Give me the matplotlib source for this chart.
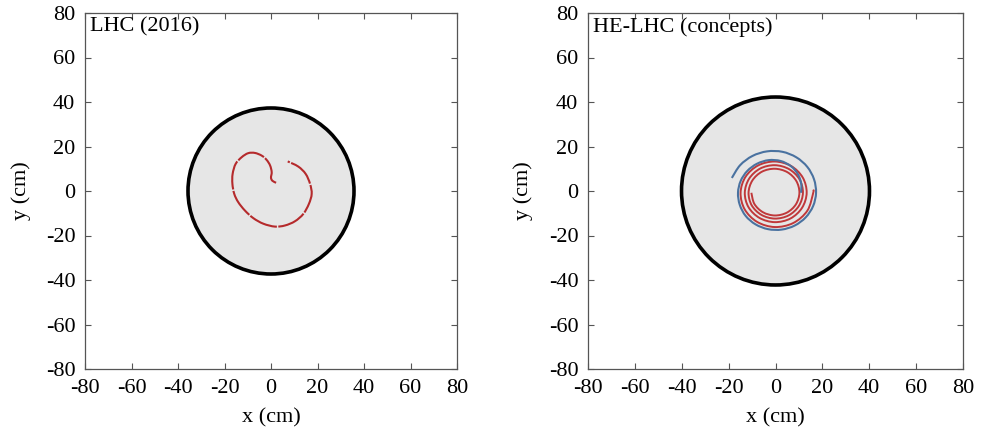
import numpy as np
import matplotlib
matplotlib.use('Agg')
from matplotlib import pyplot as plt
from matplotlib.patches import Ellipse, PathPatch
from matplotlib.path import Path

plt.rcParams['font.family'] = ['Liberation Serif', 'DejaVu Serif']
plt.rcParams['axes.unicode_minus'] = False

# panel titles and beam pipe radius (cm, read on the x scale)
titles = ['LHC (2016)', 'HE-LHC (concepts)']
pipe_r = [35.7, 40.1]

# LHC (2016): one looping track, read point by point (cm)
lhc_x = [2.2, 0.6, 0.0, 0.3, -0.4, -1.9, -4.0, -6.9, -9.8, -12.6, -15.2, -16.5,
         -16.6, -15.8, -14.1, -11.2, -7.6, -3.3, 1.7, 6.0, 10.3, 13.9, 16.3,
         17.5, 16.8, 14.9, 11.7, 7.2]
lhc_y = [3.7, 4.6, 6.0, 8.5, 11.5, 14.0, 15.9, 17.1, 17.0, 15.2, 12.2, 7.7,
         3.2, -1.3, -5.0, -8.8, -12.2, -14.7, -16.0, -15.5, -13.6, -10.3, -5.8,
         -1.3, 3.2, 7.7, 11.0, 13.3]

# HE-LHC: two curling tracks, read as angle (deg) and radius (cm) around the spiral centre
spiral_c = (-0.3, -0.8)
blue_ang = [160, 140, 120, 100, 80, 60, 40, 20, 0, -20, -40, -60, -80, -100,
            -120, -140, -160, -180, -200, -220, -240, -260, -280, -300, -320,
            -340, -360]
blue_r = [19.5, 19.3, 19.1, 18.9, 18.7, 18.4, 18.1, 17.8, 17.6, 17.4, 17.2,
          17.0, 16.8, 16.6, 16.4, 16.2, 15.9, 15.7, 15.5, 15.3, 15.1, 14.9,
          14.5, 13.8, 12.9, 12.0, 11.2]
red_ang = [-180, -150, -120, -90, -60, -30, 0, 30, 60, 90, 120, 150, 180,
           210, 240, 270, 300, 330, 360, 390, 420, 450, 480, 510, 540, 570,
           600, 630, 660, 690, 720, 750, 780, 810, 840, 870, 900, 930, 960,
           990, 1020, 1050, 1080, 1085]
red_r = [10.0, 10.05, 10.1, 10.2, 10.3, 10.4, 10.5, 10.6, 10.7, 10.8, 10.95,
         11.05, 11.2, 11.35, 11.45, 11.6, 11.75, 11.85, 12.0, 12.15, 12.25,
         12.4, 12.55, 12.65, 12.8, 12.95, 13.05, 13.2, 13.35, 13.45, 13.6,
         13.75, 13.9, 14.05, 14.2, 14.4, 14.6, 14.85, 15.1, 15.4, 15.7,
         16.05, 16.4, 16.45]

ticks = [-80, -60, -40, -20, 0, 20, 40, 60, 80]


def smooth_path(x, y):
    # bezier curve through the read points (catmull-rom tangents)
    p = np.column_stack([x, y]).astype(float)
    verts = [p[0]]
    codes = [Path.MOVETO]
    for k in range(len(p) - 1):
        p0 = p[k - 1] if k > 0 else p[k]
        p3 = p[k + 2] if k + 2 < len(p) else p[k + 1]
        c1 = p[k] + (p[k + 1] - p0) / 6.0
        c2 = p[k + 1] - (p3 - p[k]) / 6.0
        verts += [c1, c2, p[k + 1]]
        codes += [Path.CURVE4] * 3
    return Path(verts, codes)


fig = plt.figure(figsize=(9.84, 4.32), dpi=100)
W, H = 984, 432
boxes = [(85, 13, 372, 356), (588, 13, 375, 356)]
axes = []
for (l, t, w, h) in boxes:
    axes.append(fig.add_axes([l / W, (H - t - h) / H, w / W, h / H]))

for i, ax in enumerate(axes):
    l, t, w, h = boxes[i]
    r = pipe_r[i]
    # keep the pipe round on screen
    ax.add_patch(Ellipse((0, 0), 2 * r, 2 * r * w / h, facecolor='#e6e6e6',
                         edgecolor='black', lw=2.6, zorder=1))
    ax.set_xlim(-80, 80)
    ax.set_ylim(-80, 80)
    ax.set_xticks(ticks)
    ax.set_yticks(ticks)
    ax.tick_params(direction='in', length=4, width=0.8, color='#555555',
                   top=True, right=True, labelsize=16, pad=7)
    for s in ax.spines.values():
        s.set_color('#555555')
        s.set_linewidth(0.9)
    ax.set_xlabel('x (cm)', fontsize=16, va='center')
    ax.set_ylabel('y (cm)', fontsize=16, va='center')
    ax.xaxis.set_label_coords(0.5, -0.138)
    ax.yaxis.set_label_coords(-0.172, 0.5)
    ax.text(0.013, 0.988, titles[i], transform=ax.transAxes, fontsize=16,
            ha='left', va='top')

axes[0].add_patch(PathPatch(smooth_path(lhc_x, lhc_y), fill=False,
                            edgecolor='#b52a2c', lw=1.5,
                            linestyle=(0, (14, 0.7)), zorder=3))

ba = np.radians(blue_ang)
ra = np.radians(red_ang)
red_path = smooth_path(spiral_c[0] + np.array(red_r) * np.cos(ra),
                       spiral_c[1] + np.array(red_r) * np.sin(ra))
blue_path = smooth_path(spiral_c[0] + np.array(blue_r) * np.cos(ba),
                        spiral_c[1] + np.array(blue_r) * np.sin(ba))
axes[1].add_patch(PathPatch(red_path, fill=False, edgecolor='#c0383a',
                            lw=1.4, zorder=3))
axes[1].add_patch(PathPatch(blue_path, fill=False, edgecolor='#4a72a0',
                            lw=1.5, zorder=4))

plt.savefig('out.png', dpi=100)
